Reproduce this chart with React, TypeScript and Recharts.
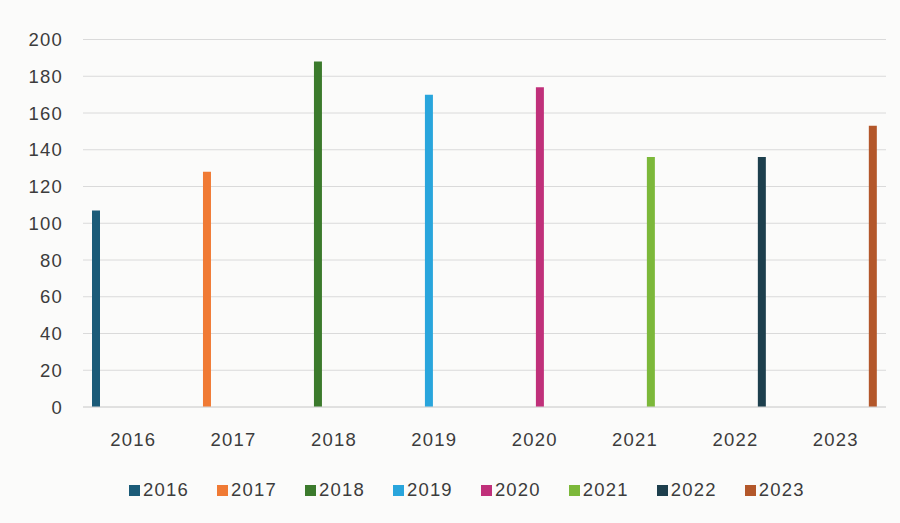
import React from "react";
import { BarChart, Bar, XAxis, YAxis, CartesianGrid, Legend } from "recharts";

const years = ["2016", "2017", "2018", "2019", "2020", "2021", "2022", "2023"];
const values = [107, 128, 188, 170, 174, 136, 136, 153];
const colors = ["#1b5b78", "#f07a34", "#3b7a2c", "#29a5dc", "#c0307a", "#7cb83a", "#1d3f4d", "#b3572a"];
const yTicks = [0, 20, 40, 60, 80, 100, 120, 140, 160, 180, 200];

// one row per year, each series only has a value in its own year
const rows = years.map((y, i) => ({ year: y, [y]: values[i] }));

const font = { fontFamily: "'Liberation Sans', Arial, sans-serif", fontSize: 18.5, letterSpacing: 1.2 };

function YearLegend() {
  return (
    <div style={{ display: "flex", paddingLeft: 129, gap: 28, ...font, color: "#3c3c3c", lineHeight: "22px" }}>
      {years.map((y, i) => (
        <div key={y} style={{ display: "flex", alignItems: "center" }}>
          <span style={{ width: 11, height: 11, background: colors[i], marginRight: 3, display: "inline-block" }} />
          <span>{y}</span>
        </div>
      ))}
    </div>
  );
}

export default function App() {
  return (
    <div style={{ position: "absolute", left: 0, top: 0, width: 900, height: 523, background: "#fbfbfa" }}>
      <BarChart
        width={900}
        height={523}
        data={rows}
        barGap={2.6}
        margin={{ top: 39.5, right: 14, bottom: 22, left: 0 }}
      >
        <CartesianGrid vertical={false} stroke="#dadada" />
        <XAxis
          dataKey="year"
          height={72}
          axisLine={{ stroke: "#d6d6d6" }}
          tickLine={false}
          tickSize={0}
          tickMargin={26}
          tick={{ ...font, fill: "#3c3c3c" }}
        />
        <YAxis
          width={83}
          domain={[0, 200]}
          ticks={yTicks}
          axisLine={false}
          tickLine={false}
          tickSize={0}
          tickMargin={20}
          tick={{ ...font, fill: "#3c3c3c" }}
        />
        {years.map((y, i) => (
          <Bar key={y} dataKey={y} fill={colors[i]} barSize={8} isAnimationActive={false} />
        ))}
        <Legend
          verticalAlign="bottom"
          content={() => <YearLegend />}
          wrapperStyle={{ left: 0, width: 900 }}
        />
      </BarChart>
    </div>
  );
}
